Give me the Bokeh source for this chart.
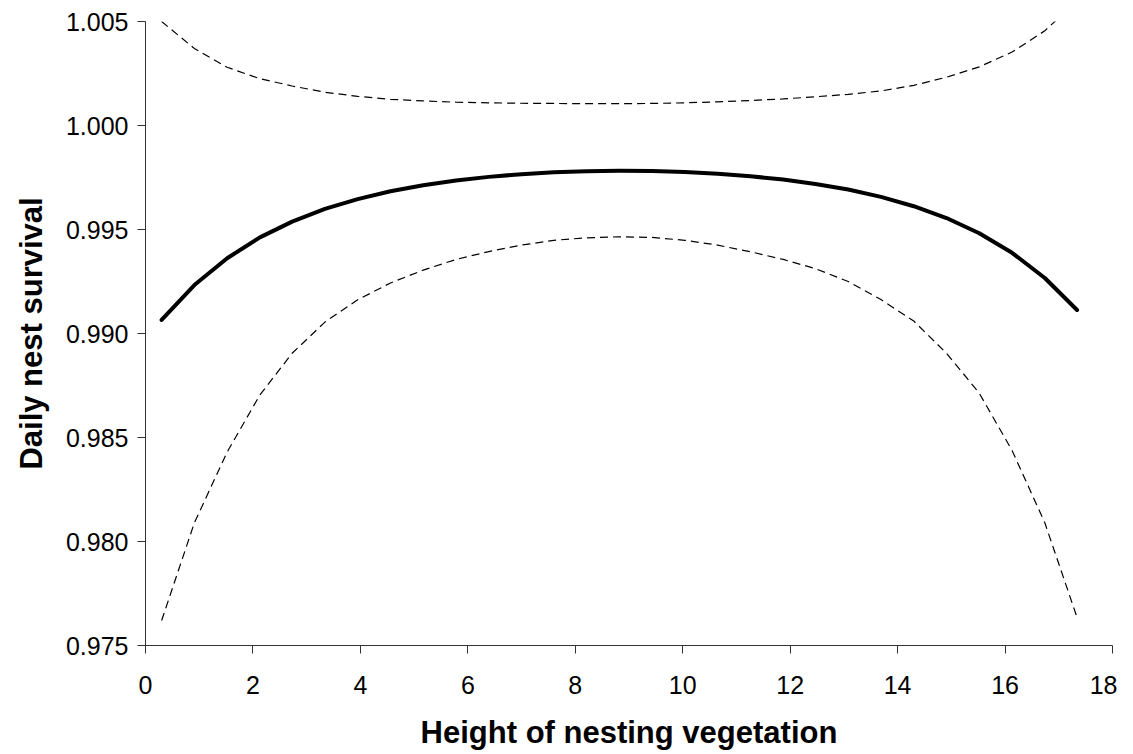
from bokeh.plotting import figure
from bokeh.models import Range1d, FixedTicker, PrintfTickFormatter, ColumnDataSource
from bokeh.embed import file_html
from bokeh.resources import INLINE

# Height of nesting vegetation
height = [0.30, 0.91, 1.52, 2.13, 2.73, 3.34, 3.95, 4.56, 5.17, 5.78,
          6.39, 7.00, 7.60, 8.21, 8.82, 9.43, 10.04, 10.65, 11.26, 11.87,
          12.47, 13.08, 13.69, 14.30, 14.91, 15.52, 16.13, 16.74, 17.34]

# Daily nest survival estimate
survival = [0.99065, 0.99233, 0.99362, 0.99462, 0.99538, 0.99599, 0.99646, 0.99684, 0.99713, 0.99736,
            0.99753, 0.99766, 0.99775, 0.99780, 0.99782, 0.99781, 0.99776, 0.99768, 0.99756, 0.99740,
            0.99719, 0.99692, 0.99657, 0.99612, 0.99555, 0.99482, 0.99388, 0.99267, 0.99113]

# Upper confidence limit
upper = [1.00500, 1.00370, 1.00280, 1.00225, 1.00190, 1.00160, 1.00140, 1.00126, 1.00118, 1.00112,
         1.00109, 1.00107, 1.00106, 1.00105, 1.00105, 1.00106, 1.00109, 1.00114, 1.00120, 1.00128,
         1.00138, 1.00150, 1.00166, 1.00193, 1.00232, 1.00282, 1.00353, 1.00455, 1.00600]

# Lower confidence limit
lower = [0.97620, 0.98090, 0.98430, 0.98705, 0.98905, 0.99055, 0.99162, 0.99243, 0.99305, 0.99356,
         0.99394, 0.99425, 0.99448, 0.99460, 0.99465, 0.99462, 0.99448, 0.99425, 0.99393, 0.99356,
         0.99312, 0.99250, 0.99163, 0.99060, 0.98905, 0.98713, 0.98438, 0.98090, 0.97635]

x_ticks = [0, 2, 4, 6, 8, 10, 12, 14, 16, 18]
y_ticks = [0.975, 0.980, 0.985, 0.990, 0.995, 1.000, 1.005]

src = ColumnDataSource(dict(x=height, s=survival, u=upper, l=lower))

p = figure(width=1117, height=754, output_backend="svg", toolbar_location=None,
           x_range=Range1d(0, 18), y_range=Range1d(0.975, 1.005),
           min_border_left=145, min_border_right=5, min_border_top=21, min_border_bottom=109)

p.line("x", "u", source=src, line_color="black", line_width=1.2, line_dash="8 5")
p.line("x", "l", source=src, line_color="black", line_width=1.2, line_dash="8 5")
p.line("x", "s", source=src, line_color="black", line_width=4, line_cap="round", line_join="round")

p.grid.visible = False
p.outline_line_color = None
p.background_fill_color = "white"
p.border_fill_color = "white"

for ax in (p.xaxis[0], p.yaxis[0]):
    ax.axis_line_color = "#333333"
    ax.major_tick_line_color = "#333333"
    ax.major_tick_out = 8
    ax.major_tick_in = 0
    ax.minor_tick_out = 0
    ax.minor_tick_in = 0
    ax.major_label_text_font = "Liberation Sans"
    ax.major_label_text_font_size = "25px"
    ax.major_label_text_color = "black"
    ax.axis_label_text_font = "Liberation Sans"
    ax.axis_label_text_font_size = "31px"
    ax.axis_label_text_font_style = "bold"
    ax.axis_label_text_color = "black"

p.xaxis.ticker = FixedTicker(ticks=x_ticks)
p.yaxis.ticker = FixedTicker(ticks=y_ticks)
p.yaxis.formatter = PrintfTickFormatter(format="%.3f")
p.xaxis.axis_label = "Height of nesting vegetation"
p.yaxis.axis_label = "Daily nest survival"
p.xaxis.major_label_standoff = 22
p.yaxis.major_label_standoff = 9
p.xaxis.axis_label_standoff = 18
p.yaxis.axis_label_standoff = 14

open("out.html", "w").write(file_html(p, INLINE))
